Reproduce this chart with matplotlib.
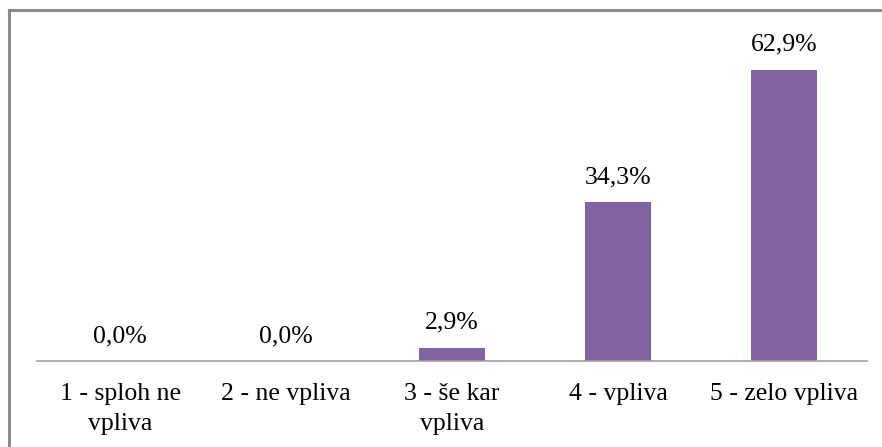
import matplotlib.pyplot as plt
from matplotlib.lines import Line2D

kategorije = ['1 - sploh ne\nvpliva', '2 - ne vpliva', '3 - še kar\nvpliva', '4 - vpliva', '5 - zelo vpliva']
deleži = [0.0, 0.0, 2.9, 34.3, 62.9]
oznake = ['0,0%', '0,0%', '2,9%', '34,3%', '62,9%']

plt.rcParams['font.family'] = ['Liberation Serif', 'DejaVu Serif']

W, H = 882, 447
fig = plt.figure(figsize=(W / 100, H / 100), dpi=100)
ax = fig.add_axes([37 / W, (H - 361) / H, (867 - 37) / W, (361 - 30) / H])

x = range(len(kategorije))
ax.bar(x, deleži, width=0.4, color='#8064A2')

for xi, v, t in zip(x, deleži, oznake):
    ax.annotate(t, (xi, v), xytext=(0, 10), textcoords='offset points',
                ha='center', va='bottom', fontsize=18.5)

ax.set_xlim(-0.5, 4.5)
ax.set_ylim(0, 331 / 4.63)
ax.set_xticks(list(x))
ax.set_xticklabels(kategorije, fontsize=18.5, linespacing=1.45)
ax.tick_params(axis='x', length=0, pad=16)
ax.set_yticks([])
for s in ['top', 'right', 'left']:
    ax.spines[s].set_visible(False)
ax.spines['bottom'].set_color('#a0a0a0')
ax.spines['bottom'].set_linewidth(1.2)

# okvir
fig.add_artist(Line2D([8.5 / W, 8.5 / W], [0, 1 - 9.5 / H], transform=fig.transFigure,
                      color='#8a8a8a', lw=2.2))
fig.add_artist(Line2D([8.5 / W, 1], [1 - 9.5 / H, 1 - 9.5 / H], transform=fig.transFigure,
                      color='#8a8a8a', lw=2.2))

fig.savefig('out.png', dpi=100)
